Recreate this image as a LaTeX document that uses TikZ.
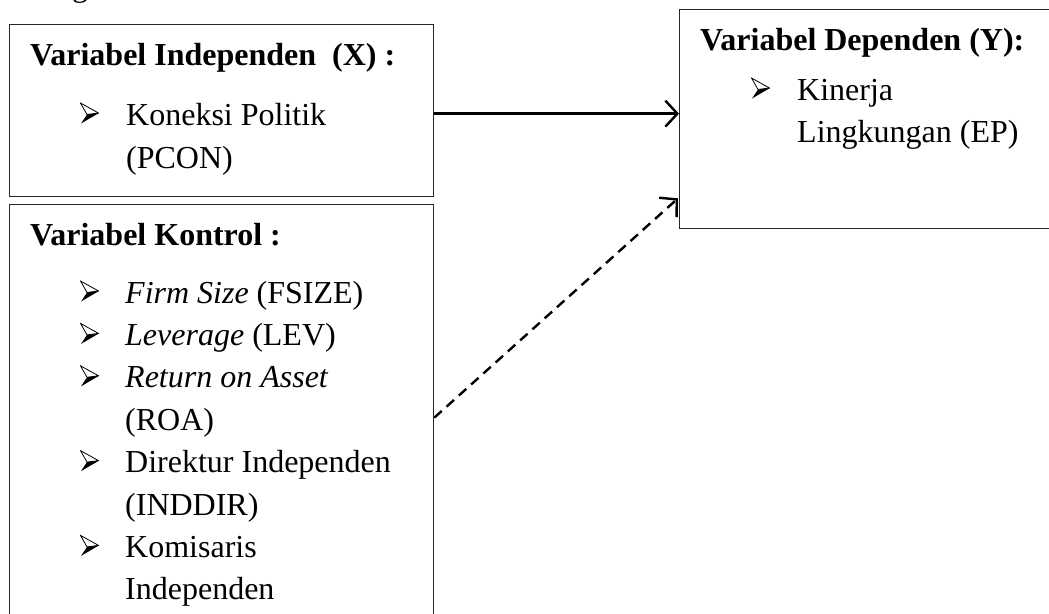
\documentclass[tikz,border=0pt]{standalone}
\usepackage{fontspec}
\setmainfont{Liberation Serif}
\usetikzlibrary{arrows.meta}
\tikzset{
  box/.style={draw=black!85, line width=1.3pt, rectangle, inner sep=0pt, anchor=north west},
  txt/.style={inner sep=0pt, anchor=base west, font=\fontsize{32}{40}\selectfont},
  ttl/.style={txt, font=\fontsize{32}{40}\selectfont\bfseries},
  bul/.style={inner sep=0pt, minimum width=19pt, minimum height=21pt, anchor=center,
    path picture={
      \fill[black] ([shift={(7pt,-12pt)}]path picture bounding box.north west)
        -- ([shift={(19pt,-10.5pt)}]path picture bounding box.north west)
        -- ([shift={(1pt,-21pt)}]path picture bounding box.north west) -- cycle;
      \draw[line width=0.8pt, line join=miter] ([shift={(0.5pt,-0.5pt)}]path picture bounding box.north west)
        -- ([shift={(18.5pt,-10.5pt)}]path picture bounding box.north west)
        -- ([shift={(7pt,-12pt)}]path picture bounding box.north west) -- cycle;
    }},
  arr/.style={line width=2.4pt, -{Straight Barb[length=12pt,width=26pt,line width=2.4pt]}},
  darr/.style={arr, dash pattern=on 10pt off 6.5pt}
}
\begin{document}
\begin{tikzpicture}[x=1pt,y=-1pt]
\useasboundingbox (0,0) rectangle (1049,613);
\clip (0,0) rectangle (1049,613);
% top fragment
\node[txt] (frag) at (72,-3) {g};
% boxes
\node[box, minimum width=424pt, minimum height=172pt] (xbox) at (9,24) {};
\node[box, minimum width=424pt, minimum height=450pt] (kbox) at (9,204) {};
\node[box, minimum width=420pt, minimum height=219pt] (ybox) at (679,9) {};
% X box text
\node[ttl] (xt) at (30,65) {Variabel Independen\ \ (X) :};
\node[bul] (xb1) at (89.5,113) {};
\node[txt] (x1) at (126,125) {Koneksi Politik};
\node[txt] (x2) at (126,168) {(PCON)};
% Y box text
\node[ttl] (yt) at (700,50) {Variabel Dependen (Y):};
\node[bul] (yb1) at (760.5,88) {};
\node[txt] (y1) at (797,100) {Kinerja};
\node[txt] (y2) at (797,142) {Lingkungan (EP)};
% K box text
\node[ttl] (kt) at (30,245) {Variabel Kontrol :};
\node[bul] (kb1) at (89.5,291) {};
\node[txt] (k1) at (125,303) {\textit{Firm Size} (FSIZE)};
\node[bul] (kb2) at (89.5,333.4) {};
\node[txt] (k2) at (125,345.4) {\textit{Leverage} (LEV)};
\node[bul] (kb3) at (89.5,375.8) {};
\node[txt] (k3) at (125,387.8) {\textit{Return on Asset}};
\node[txt] (k4) at (125,430.2) {(ROA)};
\node[bul] (kb5) at (89.5,460.6) {};
\node[txt] (k5) at (125,472.6) {Direktur Independen};
\node[txt] (k6) at (125,515) {(INDDIR)};
\node[bul] (kb7) at (89.5,545.4) {};
\node[txt] (k7) at (125,557.4) {Komisaris};
\node[txt] (k8) at (125,599.8) {Independen};
% connectors
\draw[arr] ([yshift=-3pt]xbox.east) -- ([yshift=-3pt]xbox.east -| ybox.west);
\draw[darr] ([yshift=12pt]kbox.east) -- ([yshift=31pt,xshift=-1pt]ybox.south west);
\end{tikzpicture}
\end{document}
